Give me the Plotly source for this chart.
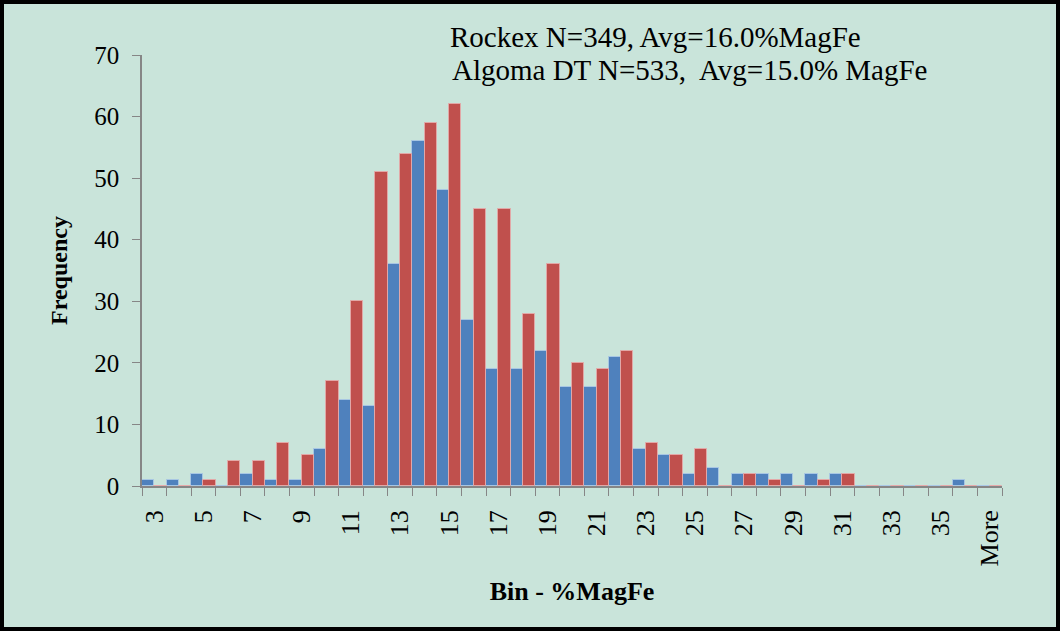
import plotly.graph_objects as go

bins = [str(b) for b in range(3, 37)] + ["More"]
rockex = [1, 1, 2, 0, 2, 1, 1, 6, 14, 13, 36, 56, 48, 27, 19, 19, 22, 16, 16, 21,
          6, 5, 2, 3, 2, 2, 2, 2, 2, 0, 0, 0, 0, 1, 0]
algoma = [0, 0, 1, 4, 4, 7, 5, 17, 30, 51, 54, 59, 62, 45, 45, 28, 36, 20, 19, 22,
          7, 5, 6, 0, 2, 1, 0, 1, 2, 0, 0, 0, 0, 0, 0]
tick_labels = [b if i % 2 == 0 else "" for i, b in enumerate(bins)]
note_lines = ["Rockex N=349, Avg=16.0%MagFe",
              "Algoma DT N=533,  Avg=15.0% MagFe"]

BG = "rgb(201,228,218)"
FONT = "Liberation Serif, Times New Roman, serif"

fig = go.Figure()
fig.add_trace(go.Bar(x=bins, y=rockex, name="Rockex",
                     marker=dict(color="#4F81BD", line=dict(color="rgba(170,200,230,0.9)", width=1))))
fig.add_trace(go.Bar(x=bins, y=algoma, name="Algoma DT",
                     marker=dict(color="#C0504D", line=dict(color="rgba(230,170,170,0.9)", width=1))))

L, R, T, B = 142, 58, 55, 145
W, H = 1060, 631
pw, ph = W - L - R, H - T - B

fig.update_layout(
    width=W, height=H,
    margin=dict(l=L, r=R, t=T, b=B),
    paper_bgcolor=BG, plot_bgcolor=BG,
    barmode="group", bargap=0, bargroupgap=0,
    showlegend=False,
    font=dict(family=FONT, color="black"),
    xaxis=dict(
        type="category", tickmode="array", tickvals=bins, ticktext=tick_labels,
        tickson="boundaries", tickangle=-90, ticks="outside", ticklen=8,
        ticklabelstandoff=12,
        tickcolor="#868686", showline=True, linecolor="#868686", linewidth=1.5,
        showgrid=False, zeroline=False, tickfont=dict(size=26, family=FONT),
        title=dict(text="<b>Bin - %MagFe</b>", font=dict(size=26, family=FONT), standoff=16),
    ),
    yaxis=dict(
        range=[0, 70], dtick=10, ticks="outside", ticklen=8, tickcolor="#868686",
        ticklabelstandoff=8,
        showline=True, linecolor="#868686", linewidth=1.5, showgrid=False,
        zeroline=False, tickfont=dict(size=25, family=FONT),
        title=dict(text="<b>Frequency</b>", font=dict(size=24, family=FONT), standoff=20),
    ),
)

fig.add_annotation(text=note_lines[0], xref="paper", yref="paper",
                   x=(448 - L) / pw, y=(H - B - 37) / ph, xanchor="left", yanchor="middle",
                   showarrow=False, font=dict(size=29, family=FONT, color="black"))
fig.add_annotation(text=note_lines[1], xref="paper", yref="paper",
                   x=(450 - L) / pw, y=(H - B - 70) / ph, xanchor="left", yanchor="middle",
                   showarrow=False, font=dict(size=29, family=FONT, color="black"))

# outer frame
fig.add_shape(type="rect", xref="paper", yref="paper", layer="above",
              x0=-L / pw, x1=(W - L) / pw, y0=-B / ph, y1=(H - B) / ph,
              line=dict(color="black", width=8), fillcolor="rgba(0,0,0,0)")

fig.write_html("out.html", config={"displayModeBar": False},
               post_script="document.body.style.margin='0px';document.body.style.overflow='hidden';")
